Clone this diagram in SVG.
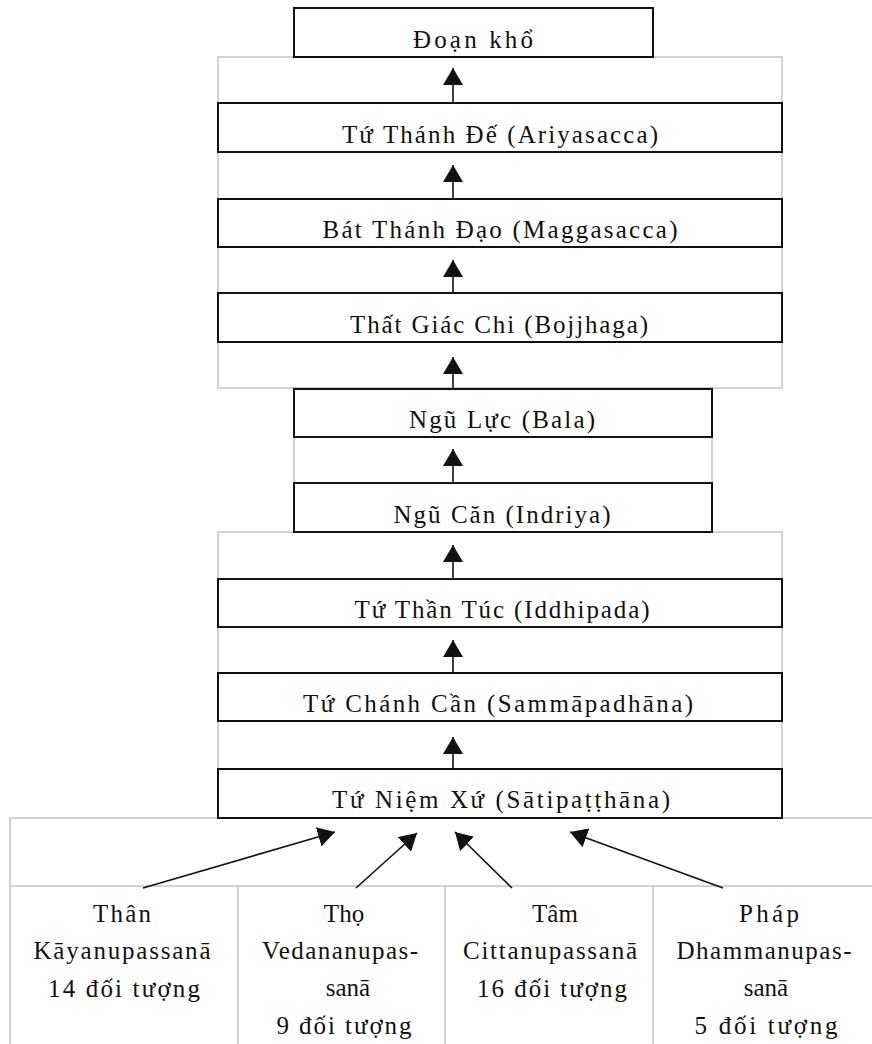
<svg xmlns="http://www.w3.org/2000/svg" width="872" height="1044" viewBox="0 0 872 1044">
<style>
.frame{fill:none;stroke:#c4c4c4;stroke-width:1.5}
.box{fill:#fff;stroke:#111;stroke-width:2}
.t{font-family:"Liberation Serif","DejaVu Serif",serif;font-size:25px;fill:#111;text-anchor:middle}
.c{stroke:#111;stroke-width:1.6;fill:none}
</style>
<defs>
<marker id="ah" markerUnits="userSpaceOnUse" markerWidth="18" markerHeight="20" refX="17" refY="10" orient="auto" viewBox="0 0 18 20">
<path d="M0,0 L17,10 L0,20 z" fill="#111"/>
</marker>
</defs>
<rect width="872" height="1044" fill="#fff"/>
<g id="frames">
<rect class="frame" x="218" y="57" width="564" height="331"/>
<rect class="frame" x="294" y="388" width="418" height="144"/>
<rect class="frame" x="218" y="532" width="564" height="286"/>
<rect class="frame" x="10" y="818" width="866" height="230"/>
<line class="frame" x1="10" y1="886" x2="872" y2="886"/>
<line class="frame" x1="238" y1="886" x2="238" y2="1044"/>
<line class="frame" x1="445" y1="886" x2="445" y2="1044"/>
<line class="frame" x1="653" y1="886" x2="653" y2="1044"/>
</g>
<g id="doan-kho"><rect class="box" x="294" y="8" width="359" height="49"/><text class="t" x="473" y="48" textLength="120" lengthAdjust="spacing">Đoạn khổ</text></g>
<g id="tu-thanh-de"><rect class="box" x="218" y="103" width="564" height="49"/><text class="t" x="500" y="143" textLength="316" lengthAdjust="spacing">Tứ Thánh Đế (Ariyasacca)</text></g>
<g id="bat-thanh-dao"><rect class="box" x="218" y="199" width="564" height="48"/><text class="t" x="500" y="238" textLength="355" lengthAdjust="spacing">Bát Thánh Đạo (Maggasacca)</text></g>
<g id="that-giac-chi"><rect class="box" x="218" y="293" width="564" height="49"/><text class="t" x="499" y="333" textLength="298" lengthAdjust="spacing">Thất Giác Chi (Bojjhaga)</text></g>
<g id="ngu-luc"><rect class="box" x="294" y="389" width="418" height="48"/><text class="t" x="502" y="428" textLength="186" lengthAdjust="spacing">Ngũ Lực (Bala)</text></g>
<g id="ngu-can"><rect class="box" x="294" y="483" width="418" height="49"/><text class="t" x="502" y="523" textLength="217" lengthAdjust="spacing">Ngũ Căn (Indriya)</text></g>
<g id="tu-than-tuc"><rect class="box" x="218" y="579" width="564" height="48"/><text class="t" x="502" y="618" textLength="295" lengthAdjust="spacing">Tứ Thần Túc (Iddhipada)</text></g>
<g id="tu-chanh-can"><rect class="box" x="218" y="673" width="564" height="48"/><text class="t" x="498" y="712" textLength="390" lengthAdjust="spacing">Tứ Chánh Cần (Sammāpadhāna)</text></g>
<g id="tu-niem-xu"><rect class="box" x="218" y="769" width="564" height="49"/><text class="t" x="501" y="808" textLength="338" lengthAdjust="spacing">Tứ Niệm Xứ  (Sātipaṭṭhāna)</text></g>
<g id="than">
<text class="t" x="122" y="922" textLength="58" lengthAdjust="spacing">Thân</text>
<text class="t" x="122" y="959" textLength="177" lengthAdjust="spacing">Kāyanupassanā</text>
<text class="t" x="124" y="997" textLength="152" lengthAdjust="spacing">14 đối tượng</text>
</g>
<g id="tho">
<text class="t" x="344" y="922">Thọ</text>
<text class="t" x="340" y="959" textLength="156" lengthAdjust="spacing">Vedananupas-</text>
<text class="t" x="348" y="996">sanā</text>
<text class="t" x="344" y="1034" textLength="135" lengthAdjust="spacing">9 đối tượng</text>
</g>
<g id="tam">
<text class="t" x="555" y="922">Tâm</text>
<text class="t" x="550" y="959" textLength="174" lengthAdjust="spacing">Cittanupassanā</text>
<text class="t" x="552" y="997" textLength="150" lengthAdjust="spacing">16 đối tượng</text>
</g>
<g id="phap">
<text class="t" x="769" y="922" textLength="60" lengthAdjust="spacing">Pháp</text>
<text class="t" x="764" y="959" textLength="175" lengthAdjust="spacing">Dhammanupas-</text>
<text class="t" x="766" y="996">sanā</text>
<text class="t" x="766" y="1034" textLength="143" lengthAdjust="spacing">5 đối tượng</text>
</g>
<g id="connectors">
<line class="c" x1="453" y1="103" x2="453" y2="68" marker-end="url(#ah)"/>
<line class="c" x1="453" y1="199" x2="453" y2="165" marker-end="url(#ah)"/>
<line class="c" x1="453" y1="293" x2="453" y2="260" marker-end="url(#ah)"/>
<line class="c" x1="453" y1="389" x2="453" y2="357" marker-end="url(#ah)"/>
<line class="c" x1="453" y1="483" x2="453" y2="449" marker-end="url(#ah)"/>
<line class="c" x1="453" y1="579" x2="453" y2="545" marker-end="url(#ah)"/>
<line class="c" x1="453" y1="673" x2="453" y2="640" marker-end="url(#ah)"/>
<line class="c" x1="453" y1="769" x2="453" y2="737" marker-end="url(#ah)"/>
<line class="c" x1="143" y1="888" x2="335" y2="832" marker-end="url(#ah)"/>
<line class="c" x1="356" y1="888" x2="417" y2="833" marker-end="url(#ah)"/>
<line class="c" x1="512" y1="888" x2="455" y2="832" marker-end="url(#ah)"/>
<line class="c" x1="723" y1="888" x2="570" y2="832" marker-end="url(#ah)"/>
</g>
</svg>
